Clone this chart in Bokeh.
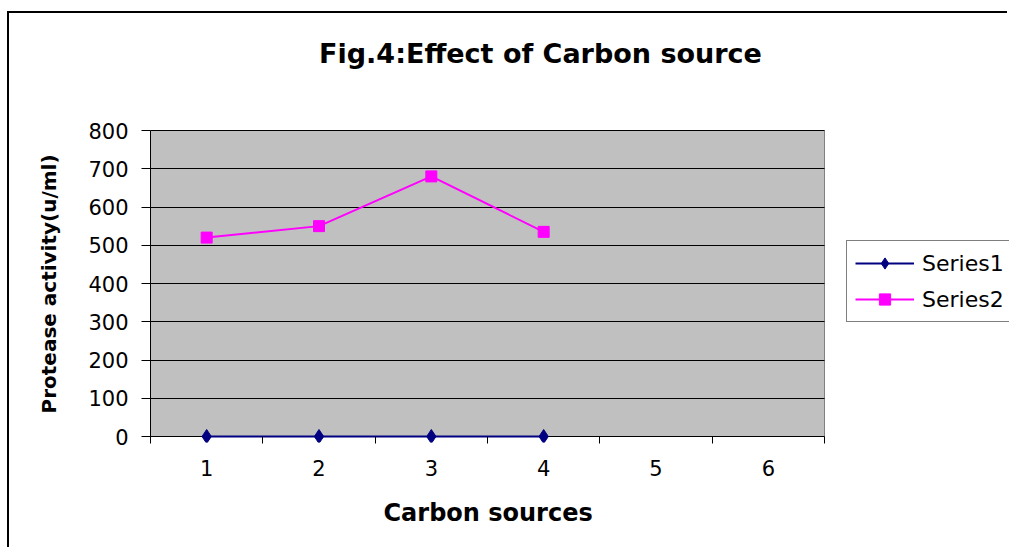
from bokeh.plotting import figure
from bokeh.models import Range1d, FixedTicker, Legend, LegendItem, Label, Title
from bokeh.embed import file_html
from bokeh.resources import INLINE

# ---- data ----
title_text = "Fig.4:Effect of Carbon source"
x_title = "Carbon sources"
y_title = "Protease activity(u/ml)"
categories = [1, 2, 3, 4, 5, 6]
sources = [1, 2, 3, 4]
series1 = [0, 0, 0, 0]
series2 = [520, 550, 680, 535]
y_ticks = [0, 100, 200, 300, 400, 500, 600, 700, 800]
series_names = ["Series1", "Series2"]

FONT = "DejaVu Sans"

# ---- layout (page pixels -> canvas pixels) ----
OX, OY = 9, 13             # canvas origin on the page (margin + border)
W, H = 1000, 536
frame_l = 150 - OX
plot_r = 824 - OX          # right edge of the gray plot area
top800 = 130 - OY          # y of the 800 line
zero_px = 436 - OY
frame_b = 442 - OY

x_lo = categories[0] - 0.5
x_hi = categories[-1] + 0.5
px_per_x = (plot_r - frame_l) / (x_hi - x_lo)
x_max = x_lo + (W - frame_l) / px_per_x

y_top = y_ticks[-1]
px_per_y = (zero_px - top800) / y_top
y_lo = -(frame_b - zero_px) / px_per_y
y_max = y_top + top800 / px_per_y

def dx(page_x):
    return x_lo + (page_x - 150) / px_per_x

def dy(page_y):
    return (436 - page_y) / px_per_y

p = figure(width=W, height=H, output_backend="svg", toolbar_location=None,
           x_range=Range1d(x_lo, x_max), y_range=Range1d(y_lo, y_max),
           min_border_left=frame_l, min_border_top=0,
           min_border_right=0, min_border_bottom=H - frame_b,
           background_fill_color="white", border_fill_color="white",
           outline_line_color=None, title=None)
p.styles = {"border-left": "2px solid black", "border-top": "2px solid black",
            "margin-top": "11px", "margin-left": "7px"}

# gray plot area
p.quad(left=[x_lo], right=[x_hi], bottom=[0], top=[y_top],
       fill_color="#C0C0C0", line_color="#808080", line_width=1, level="image")

# grid
p.xgrid.visible = False
p.ygrid.ticker = FixedTicker(ticks=y_ticks)
p.ygrid.grid_line_color = "black"
p.ygrid.grid_line_width = 1
p.ygrid.cross_bounds = (x_lo, x_hi)

# y axis
ya = p.yaxis[0]
ya.ticker = FixedTicker(ticks=y_ticks)
ya.bounds = (y_lo, y_top)
ya.axis_line_color = "black"
ya.major_tick_line_color = "black"
ya.major_tick_in = 0
ya.major_tick_out = 9
ya.minor_tick_line_color = None
ya.major_label_text_font = FONT
ya.major_label_text_font_size = "21px"
ya.major_label_text_color = "black"
ya.major_label_standoff = 13

# x axis (at frame bottom; ticks reach up to the zero line)
xa = p.xaxis[0]
xa.ticker = FixedTicker(ticks=categories,
                        minor_ticks=[c - 0.5 for c in categories] + [x_hi])
xa.bounds = (x_lo, x_hi)
xa.axis_line_color = None
xa.major_tick_line_color = None
xa.major_tick_in = 0
xa.major_tick_out = 0
xa.minor_tick_line_color = "black"
xa.minor_tick_in = frame_b - zero_px
xa.minor_tick_out = 1
xa.major_label_text_font = FONT
xa.major_label_text_font_size = "21px"
xa.major_label_text_color = "black"
xa.major_label_standoff = 16

# axis titles (as side-panel titles so they can be placed along the axis)
p.add_layout(Title(text=x_title, align="left", offset=383 - 150, standoff=37,
                   text_font=FONT, text_font_style="bold", text_font_size="24px",
                   text_color="black"), "below")
p.add_layout(Title(text=y_title, align="left", offset=442 - 413, standoff=50,
                   text_font=FONT, text_font_style="bold", text_font_size="20px",
                   text_color="black"), "left")

# series
l1 = p.line(sources, series1, line_color="#000080", line_width=2)
s1 = p.scatter(sources, series1, marker="diamond", size=14,
               fill_color="#000080", line_color="#000080")
l2 = p.line(sources, series2, line_color="#FF00FF", line_width=2)
s2 = p.scatter(sources, series2, marker="square", size=11,
               fill_color="#FF00FF", line_color="#FF00FF")

legend = Legend(items=[LegendItem(label=series_names[0], renderers=[l1, s1]),
                       LegendItem(label=series_names[1], renderers=[l2, s2])],
                location=(846 - 150, 442 - 322),
                border_line_color="black", border_line_width=1,
                background_fill_color="white", background_fill_alpha=1,
                label_text_font=FONT, label_text_font_size="22px",
                label_text_color="black",
                glyph_width=59, glyph_height=28, label_height=28,
                label_standoff=8, padding=8, spacing=8, margin=0)
p.add_layout(legend)

# chart title
p.add_layout(Label(x=dx(540), y=dy(53), text=title_text,
                   text_font=FONT, text_font_style="bold", text_font_size="27px",
                   text_color="black", text_align="center", text_baseline="middle"))

open("out.html", "w").write(file_html(p, INLINE))
